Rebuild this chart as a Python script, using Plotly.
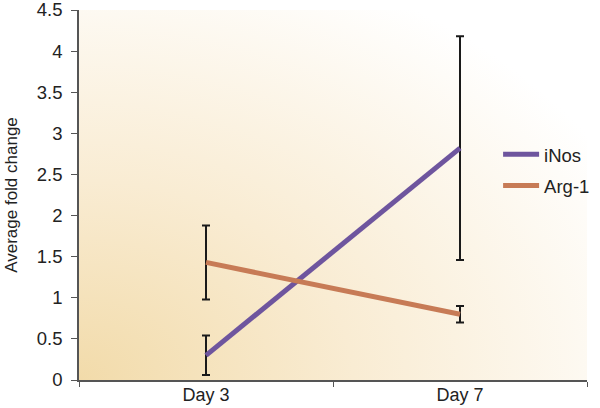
import base64

import plotly.graph_objects as go

days = ["Day 3", "Day 7"]
inos = [0.30, 2.82]
inos_err = [0.24, 1.36]
arg1 = [1.43, 0.80]
arg1_err = [0.45, 0.10]
y_ticks = [0, 0.5, 1, 1.5, 2, 2.5, 3, 3.5, 4, 4.5]

PURPLE = "#6E559E"
ORANGE = "#C77B56"
FONT = "Liberation Sans, Arial, sans-serif"

# warm background wash behind the plot area (tan at bottom-left fading to white)
svg = (
    '<svg xmlns="http://www.w3.org/2000/svg" width="100" height="100" '
    'viewBox="0 0 100 100" preserveAspectRatio="none">'
    '<defs><radialGradient id="g" cx="0" cy="1" r="1.2">'
    '<stop offset="0" stop-color="#F2DBAA"/>'
    '<stop offset="0.45" stop-color="#F9ECD3"/>'
    '<stop offset="1" stop-color="#FFFFFF"/>'
    '</radialGradient></defs>'
    '<rect width="100" height="100" fill="url(#g)"/></svg>'
)
bg_src = "data:image/svg+xml;base64," + base64.b64encode(svg.encode()).decode()

err_style = dict(type="data", thickness=2, width=4, color="#1a1a1a")

fig = go.Figure()
fig.add_trace(go.Scatter(
    x=days, y=inos, name="iNos", mode="lines",
    line=dict(color=PURPLE, width=5),
    error_y=dict(array=inos_err, **err_style),
    legendgroup="a",
))
fig.add_trace(go.Scatter(
    x=days, y=arg1, name="Arg-1", mode="lines",
    line=dict(color=ORANGE, width=5),
    error_y=dict(array=arg1_err, **err_style),
    legendgroup="b",
))

fig.update_layout(
    width=600, height=408,
    margin=dict(l=79, r=5, t=10, b=28),
    paper_bgcolor="white",
    plot_bgcolor="rgba(0,0,0,0)",
    font=dict(family=FONT, size=18.5, color="#222"),
    images=[dict(
        source=bg_src, xref="paper", yref="paper",
        x=0, y=1, sizex=1, sizey=1, sizing="stretch",
        xanchor="left", yanchor="top", layer="below",
    )],
    legend=dict(
        x=0.825, y=0.66, xanchor="left", yanchor="top",
        bgcolor="rgba(0,0,0,0)", font=dict(size=18.5),
        traceorder="grouped", tracegroupgap=4, itemwidth=36,
    ),
    xaxis=dict(
        type="category", range=[-0.5, 1.5], automargin=False,
        showgrid=False, showline=True, linecolor="#555", linewidth=1.5,
        ticks="outside", tickson="boundaries", ticklen=5, tickcolor="#555",
        tickfont=dict(size=18), ticklabelstandoff=-2,
    ),
    yaxis=dict(
        range=[0, 4.5], tickvals=y_ticks, automargin=False,
        ticktext=[f"{v:g}" for v in y_ticks],
        showgrid=False, zeroline=False,
        showline=True, linecolor="#555", linewidth=1.5,
        ticks="outside", ticklen=6, tickcolor="#555",
        tickfont=dict(size=18.5), ticklabelstandoff=5,
        ticklabeloverflow="allow",
        title=dict(text="Average fold change", font=dict(size=17), standoff=15),
    ),
)

fig.write_html(
    "out.html",
    config={"displayModeBar": False},
    post_script="document.body.style.margin='0';",
)
